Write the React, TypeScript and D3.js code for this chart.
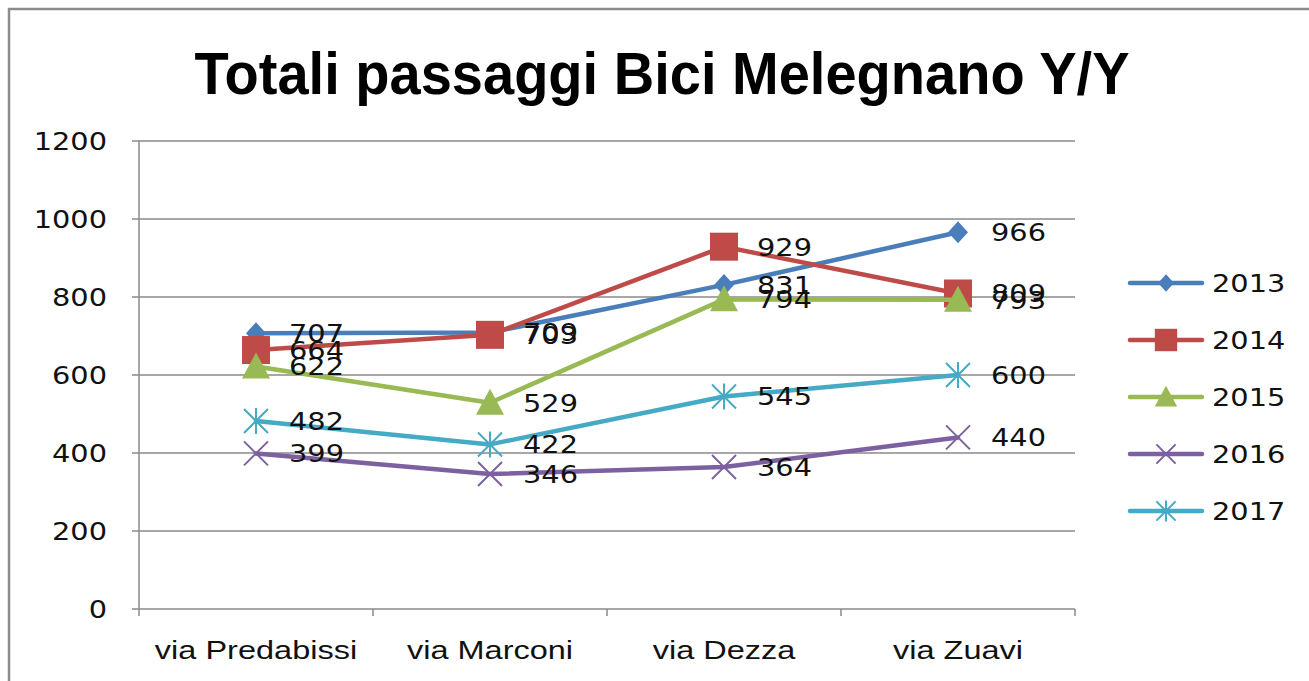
import React, { useRef, useEffect } from 'react';
import * as d3 from "d3";

// categories and series
const categories = ["via Predabissi", "via Marconi", "via Dezza", "via Zuavi"];
const years = ["2013", "2014", "2015", "2016", "2017"];
const v2013 = [707, 709, 831, 966];
const v2014 = [664, 703, 929, 809];
const v2015 = [622, 529, 794, 793];
const v2016 = [399, 346, 364, 440];
const v2017 = [482, 422, 545, 600];
const yTicks = [0, 200, 400, 600, 800, 1000, 1200];

const colors = ["#4a7ebb", "#be4b48", "#98b954", "#7d60a0", "#46aac5"];
const markerTypes = ["diamond", "square", "triangle", "x", "star"];

export default function App() {
    const svgRef = useRef<SVGSVGElement>(null);

    useEffect(() => {
        const series = [v2013, v2014, v2015, v2016, v2017];
        const width = 1309, height = 681;
        const left = 139, right = 1075, top = 141, bottom = 609;

        const svg = d3.select(svgRef.current);
        svg.selectAll("*").remove();

        svg.append("rect").attr("width", width).attr("height", height).attr("fill", "#fff");
        svg.append("rect")
            .attr("x", 9).attr("y", 9).attr("width", width + 10).attr("height", height + 10)
            .attr("fill", "none").attr("stroke", "#8c8c8c").attr("stroke-width", 2.5);

        var x = d3.scaleBand().domain(categories).range([left, right]);
        var y = d3.scaleLinear().domain([0, 1200]).range([bottom, top]);
        const cx = (c: string) => (x(c) as number) + x.bandwidth() / 2;

        // title
        svg.append("text")
            .attr("x", 662).attr("y", 94)
            .attr("text-anchor", "middle")
            .attr("font-family", "Liberation Sans Narrow, Liberation Sans, Arial, sans-serif")
            .attr("font-weight", "bold")
            .attr("font-size", 60)
            .attr("textLength", 935)
            .attr("lengthAdjust", "spacingAndGlyphs")
            .text("Totali passaggi Bici Melegnano Y/Y");

        // gridlines
        svg.append("g").selectAll("line")
            .data(yTicks.filter(d => d > 0))
            .enter().append("line")
            .attr("x1", left).attr("x2", right)
            .attr("y1", d => y(d)).attr("y2", d => y(d))
            .attr("stroke", "#8a8a8a").attr("stroke-width", 1.5);

        // axes lines
        svg.append("line").attr("x1", left).attr("x2", left).attr("y1", top).attr("y2", bottom)
            .attr("stroke", "#8a8a8a").attr("stroke-width", 1.5);
        svg.append("line").attr("x1", left).attr("x2", right).attr("y1", bottom).attr("y2", bottom)
            .attr("stroke", "#8a8a8a").attr("stroke-width", 1.5);
        svg.append("g").selectAll("line")
            .data(yTicks)
            .enter().append("line")
            .attr("x1", left - 7).attr("x2", left)
            .attr("y1", d => y(d)).attr("y2", d => y(d))
            .attr("stroke", "#8a8a8a").attr("stroke-width", 1.5);
        const bounds = categories.map(c => x(c) as number).concat([right]);
        svg.append("g").selectAll("line")
            .data(bounds)
            .enter().append("line")
            .attr("x1", d => d).attr("x2", d => d)
            .attr("y1", bottom).attr("y2", bottom + 7)
            .attr("stroke", "#8a8a8a").attr("stroke-width", 1.5);

        // y tick labels
        svg.append("g").selectAll("text")
            .data(yTicks)
            .enter().append("text")
            .attr("transform", d => "translate(107," + (y(d) + 8.5) + ") scale(1.2,1)")
            .attr("text-anchor", "end")
            .attr("font-family", "DejaVu Sans, sans-serif")
            .attr("font-size", 24)
            .attr("fill", "#111")
            .text(d => d);

        // x labels
        svg.append("g").selectAll("text")
            .data(categories)
            .enter().append("text")
            .attr("transform", d => "translate(" + cx(d) + ",659) scale(1.3,1)")
            .attr("text-anchor", "middle")
            .attr("font-family", "Liberation Sans, Arial, sans-serif")
            .attr("font-size", 25)
            .attr("fill", "#111")
            .text(d => d);

        function drawMarker(g: any, type: string, color: string, s: number) {
            if (type === "diamond") {
                g.append("path").attr("d", `M0,${-11 * s}L${10 * s},0L0,${11 * s}L${-10 * s},0Z`).attr("fill", color);
            } else if (type === "square") {
                g.append("rect").attr("x", -14 * s).attr("y", -14 * s).attr("width", 28 * s).attr("height", 28 * s)
                    .attr("fill", color);
            } else if (type === "triangle") {
                g.append("path").attr("d", `M0,${-14 * s}L${14 * s},${12 * s}L${-14 * s},${12 * s}Z`).attr("fill", color);
            } else if (type === "x") {
                g.append("path").attr("d", `M${-12 * s},${-12 * s}L${12 * s},${12 * s}M${-12 * s},${12 * s}L${12 * s},${-12 * s}`)
                    .attr("stroke", color).attr("stroke-width", 2).attr("fill", "none");
            } else {
                g.append("path").attr("d", `M${-12 * s},${-12 * s}L${12 * s},${12 * s}M${-12 * s},${12 * s}L${12 * s},${-12 * s}M0,${-13 * s}L0,${13 * s}`)
                    .attr("stroke", color).attr("stroke-width", 2).attr("fill", "none");
            }
        }

        var line = d3.line<number>()
            .x((d, i) => cx(categories[i]))
            .y(d => y(d));

        series.forEach(function (vals, si) {
            svg.append("path")
                .datum(vals)
                .attr("d", line)
                .attr("fill", "none")
                .attr("stroke", colors[si])
                .attr("stroke-width", 4.5)
                .attr("stroke-linejoin", "round")
                .attr("stroke-linecap", "round");
            vals.forEach(function (v, i) {
                const g = svg.append("g").attr("transform", "translate(" + cx(categories[i]) + "," + y(v) + ")");
                drawMarker(g, markerTypes[si], colors[si], 1);
            });
        });

        // data labels
        series.forEach(function (vals, si) {
            svg.append("g").selectAll("text")
                .data(vals)
                .enter().append("text")
                .attr("transform", (d, i) => "translate(" + (cx(categories[i]) + 33) + "," + (y(d) + 9) + ") scale(1.2,1)")
                .attr("font-family", "DejaVu Sans, sans-serif")
                .attr("font-size", 24)
                .attr("fill", "#111")
                .text(d => d);
        });

        // legend
        const legend = svg.append("g").selectAll("g")
            .data(years)
            .enter().append("g")
            .attr("transform", (d, i) => "translate(0," + (283 + i * 57) + ")");
        legend.append("line")
            .attr("x1", 1130).attr("x2", 1202)
            .attr("stroke", (d, i) => colors[i])
            .attr("stroke-width", 4.5)
            .attr("stroke-linecap", "round");
        legend.each(function (d, i) {
            const g = d3.select(this).append("g").attr("transform", "translate(1166,0)");
            drawMarker(g, markerTypes[i], colors[i], 0.8);
        });
        legend.append("text")
            .attr("transform", "translate(1212,9) scale(1.2,1)")
            .attr("font-family", "DejaVu Sans, sans-serif")
            .attr("font-size", 24)
            .attr("fill", "#111")
            .text(d => d);
    }, []);

    return (
        <svg ref={svgRef} width={1309} height={681}
            style={{ position: "absolute", left: 0, top: 0, display: "block" }} />
    );
}
